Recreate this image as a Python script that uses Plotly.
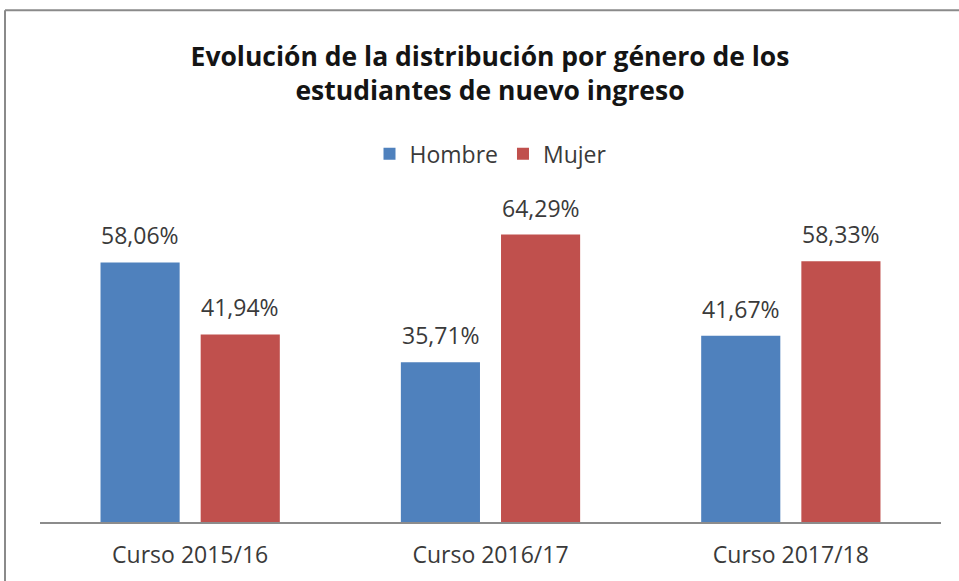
import plotly.graph_objects as go

categories = ["Curso 2015/16", "Curso 2016/17", "Curso 2017/18"]
hombre = [58.06, 35.71, 41.67]
mujer = [41.94, 64.29, 58.33]
series_names = ["Hombre", "Mujer"]
colors = ["#4F81BD", "#C0504D"]

FONT = "'Open Sans', Lato, sans-serif"

fig = go.Figure()
for name, vals, col in zip(series_names, [hombre, mujer], colors):
    fig.add_trace(go.Bar(name=name, x=categories, y=vals, marker=dict(color=col, line=dict(width=0))))

annotations = []
for k, vals in enumerate([hombre, mujer]):
    for c, v in zip(categories, vals):
        annotations.append(dict(
            x=c, y=v, xref="x", yref="y", text=f"{v:.2f}%".replace(".", ","),
            showarrow=False, yanchor="bottom", xanchor="center",
            xshift=(-50 if k == 0 else 50), yshift=9,
            font=dict(family=FONT, size=23, color="#3a3a3a")))

fig.update_layout(
    width=959, height=581,
    margin=dict(l=40, r=18, t=209, b=59),
    paper_bgcolor="white", plot_bgcolor="white",
    separators=",.",
    barmode="group", bargap=0.333, bargroupgap=0.21,
    title=dict(text="Evolución de la distribución por género de los<br>estudiantes de nuevo ingreso",
               x=490 / 959, xanchor="center", y=1 - 66 / 581, yanchor="middle", yref="container",
               font=dict(family=FONT, size=26.5, color="#141414", weight="bold")),
    legend=dict(orientation="h", x=0.5, xanchor="center", y=(522 - 155) / 312, yanchor="middle",
                font=dict(family=FONT, size=23, color="#3a3a3a"), traceorder="normal",
                itemwidth=30, bgcolor="rgba(0,0,0,0)"),
    xaxis=dict(showgrid=False, showline=True, linecolor="#8c8c8c", linewidth=1.5, ticks="",
               tickfont=dict(family=FONT, size=23, color="#3a3a3a"), ticklabelstandoff=12),
    yaxis=dict(range=[0, 70], visible=False, showgrid=False, zeroline=False),
    annotations=annotations,
    shapes=[
        dict(type="line", xref="paper", yref="paper",
             x0=(5 - 40) / 901, x1=(959 - 40) / 901, y0=(522 - 12) / 312, y1=(522 - 12) / 312,
             line=dict(color="#8a8a8a", width=2)),
        dict(type="line", xref="paper", yref="paper",
             x0=(5 - 40) / 901, x1=(5 - 40) / 901, y0=(522 - 12) / 312, y1=(522 - 600) / 312,
             line=dict(color="#8a8a8a", width=2)),
    ],
)

fig.write_html("out.html", config={"displayModeBar": False},
               post_script="document.body.style.margin='0';")
